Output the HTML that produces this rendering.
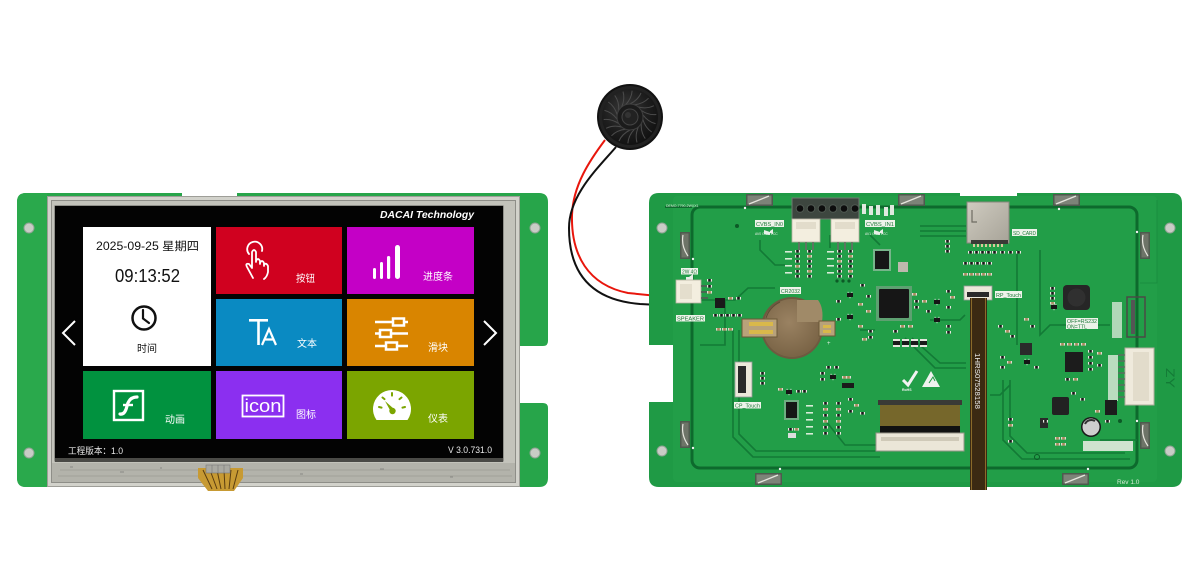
<!DOCTYPE html>
<html><head><meta charset="utf-8">
<style>
html,body{margin:0;padding:0;background:#fff;width:1200px;height:570px;overflow:hidden}
svg{display:block}
</style></head><body>
<svg width="1200" height="570" viewBox="0 0 1200 570" xmlns="http://www.w3.org/2000/svg" xmlns:xlink="http://www.w3.org/1999/xlink">
<defs>
  <radialGradient id="spk" cx="0.42" cy="0.38" r="0.65">
    <stop offset="0" stop-color="#3a3a3a"/><stop offset="0.6" stop-color="#1e1e1e"/><stop offset="1" stop-color="#111"/>
  </radialGradient>
  <radialGradient id="bat" cx="0.45" cy="0.4" r="0.6">
    <stop offset="0" stop-color="#9a8262"/><stop offset="1" stop-color="#7a6446"/>
  </radialGradient>
  <linearGradient id="sd" x1="0" y1="0" x2="1" y2="1">
    <stop offset="0" stop-color="#cfcbc0"/><stop offset="1" stop-color="#a7a398"/>
  </linearGradient>
  <g id="res"><rect width="5" height="2.6" fill="#e6e6de"/><rect x="1.2" width="2.6" height="2.6" fill="#1a1a1a"/></g>
  <g id="cap"><rect width="5" height="2.6" fill="#dcdcd2"/><rect x="1.2" width="2.6" height="2.6" fill="#a88a5a"/></g>
  <g id="sot"><rect width="6" height="4" fill="#151515"/><rect x="0.6" y="-1.2" width="1" height="1.2" fill="#ccc"/><rect x="4.4" y="-1.2" width="1" height="1.2" fill="#ccc"/><rect x="2.5" y="4" width="1" height="1.2" fill="#ccc"/></g>
  <g id="lab"><rect width="7" height="1.6" fill="#d8ecd8"/></g>
  <g id="clipH"><rect width="27" height="12" fill="#4e5a4e"/><rect x="1.5" y="1.5" width="24" height="9" fill="#7d8378"/><path d="M3,10 L23,2" stroke="#e6e6de" stroke-width="1.3"/></g>
  <g id="clipV"><rect width="10" height="27" fill="#4e5a4e"/><rect x="1.5" y="1.5" width="7" height="24" fill="#6e7468"/><path d="M3,3 Q1,14 8,24" stroke="#e6e6de" stroke-width="1.2" fill="none"/></g>
  <g id="sw"><path d="M630,104 Q638,100 641,93" stroke="#4c4c4c" stroke-width="1" fill="none"/></g>
</defs>

<!-- ================= LEFT BOARD ================= -->
<path d="M26,193 H182 V197 H237 V193 H539 Q548,193 548,202 V341 Q548,346 543,346 H520 V403 H543 Q548,403 548,408 V478 Q548,487 539,487 H26 Q17,487 17,478 V202 Q17,193 26,193 Z" fill="#27a54a"/>
<path d="M17,202 Q17,193 26,193 H47 V487 H26 Q17,487 17,478 Z" fill="#2aa94c"/>
<circle cx="29" cy="228" r="5" fill="#c9ccc6" stroke="#8fa393" stroke-width="1"/>
<circle cx="29" cy="453" r="5" fill="#c9ccc6" stroke="#8fa393" stroke-width="1"/>
<circle cx="535" cy="228" r="5" fill="#c9ccc6" stroke="#8fa393" stroke-width="1"/>
<circle cx="535" cy="453" r="5" fill="#c9ccc6" stroke="#8fa393" stroke-width="1"/>

<!-- touch frame -->
<rect x="47" y="196" width="473" height="291" fill="#9e9e98"/>
<rect x="48" y="197" width="471" height="289" fill="#d2d2cb"/>
<rect x="51" y="200" width="465" height="283" fill="#8e8e88"/>
<rect x="52" y="201" width="463" height="281" fill="#c3c3bb"/>
<rect x="52" y="463" width="463" height="19" fill="#b3b3ab"/>
<path d="M60,470 H510 M58,476 H512" stroke="#a2a29a" stroke-width="1"/>
<path d="M70,467 l3,0 M120,472 l4,0 M160,468 l2,0 M300,474 l3,0 M380,469 l4,0 M450,477 l3,0" stroke="#8a8a84" stroke-width="1"/>
<rect x="54.5" y="205.5" width="449" height="256" fill="#5c5c58"/>
<rect x="55" y="206" width="448" height="255" fill="#030303"/>
<rect x="55" y="458" width="448" height="4" fill="#4a4a46"/>

<!-- flex tail -->
<path d="M198,468 H243 V478 L234,491 H208 L198,478 Z" fill="#c79a33"/>
<path d="M203,470 L212,489 M210,470 L217,489 M217,470 L221,489 M224,470 L225,489 M231,470 L229,489 M238,470 L233,489" stroke="#5a3d10" stroke-width="1"/>
<rect x="206" y="465" width="24" height="8" fill="#a9a9a2" stroke="#777" stroke-width="0.6"/>
<path d="M212,465 V473 M218,465 V473 M224,465 V473" stroke="#777" stroke-width="0.6"/>

<!-- screen text -->
<text x="380" y="218" font-family="Liberation Sans, sans-serif" font-size="10" font-weight="bold" font-style="italic" fill="#fff" textLength="94" lengthAdjust="spacingAndGlyphs">DACAI  Technology</text>

<!-- tiles -->
<rect x="83" y="227" width="128" height="139" fill="#ffffff"/>
<rect x="216" y="227" width="126" height="67" fill="#d0011f"/>
<rect x="347" y="227" width="127" height="67" fill="#c400c6"/>
<rect x="216" y="299" width="126" height="67" fill="#0a8ac2"/>
<rect x="347" y="299" width="127" height="67" fill="#d98500"/>
<rect x="83" y="371" width="128" height="68" fill="#01923f"/>
<rect x="216" y="371" width="126" height="68" fill="#8b2ff0"/>
<rect x="347" y="371" width="127" height="68" fill="#7ba500"/>

<!-- clock tile -->
<text x="96" y="250" font-family="Liberation Sans, Noto Sans CJK SC, sans-serif" font-size="11.5" fill="#111" textLength="103" lengthAdjust="spacingAndGlyphs">2025-09-25 星期四</text>
<text x="115" y="282" font-family="Liberation Sans, sans-serif" font-size="18" fill="#111" textLength="65" lengthAdjust="spacingAndGlyphs">09:13:52</text>
<circle cx="144" cy="318" r="11.5" fill="none" stroke="#111" stroke-width="2.5"/>
<path d="M143,310 V318.5 L149,323" fill="none" stroke="#111" stroke-width="2.2" stroke-linecap="round"/>
<text x="137" y="352" font-family="Liberation Sans, Noto Sans CJK SC, sans-serif" font-size="10" fill="#111" textLength="20" lengthAdjust="spacingAndGlyphs">时间</text>

<!-- arrows -->
<polyline points="75,321 63,333 75,345" fill="none" stroke="#fff" stroke-width="2"/>
<polyline points="484,321 496,333 484,345" fill="none" stroke="#fff" stroke-width="2"/>

<!-- hand icon -->
<g fill="none" stroke="#fff" stroke-width="1.8" stroke-linecap="round" stroke-linejoin="round">
  <path d="M249,254 A7.5,7.5 0 1 1 262,251"/>
  <path d="M253,278 L247,267 Q245,263 249,264 L252,268 L252,252 Q254,248 256,252 L256,262 M256,261 Q258,257 260,261 L260,264 M260,263 Q262,259 264,263 L264,266 M264,265 Q266,262 268,266 L268,272 Q267,277 264,279"/>
</g>
<text x="296" y="282" font-family="Liberation Sans, Noto Sans CJK SC, sans-serif" font-size="10" fill="#fff" textLength="19" lengthAdjust="spacingAndGlyphs">按钮</text>

<!-- bars icon -->
<g fill="#fff">
  <rect x="373" y="268" width="3" height="11" rx="1.5"/>
  <rect x="380" y="262" width="3" height="17" rx="1.5"/>
  <rect x="387" y="256" width="3.2" height="23" rx="1.6"/>
  <rect x="395" y="245" width="5" height="34" rx="2.5"/>
</g>
<text x="423" y="280" font-family="Liberation Sans, Noto Sans CJK SC, sans-serif" font-size="10" fill="#fff" textLength="30" lengthAdjust="spacingAndGlyphs">进度条</text>

<!-- TA icon -->
<g fill="#fff">
  <rect x="249" y="319" width="19" height="2.6"/>
  <rect x="257.2" y="319" width="2.6" height="26"/>
</g>
<path d="M262,345 L269,329 L276,345 M264.5,339.5 H273.5" fill="none" stroke="#fff" stroke-width="2.2"/>
<text x="297" y="347" font-family="Liberation Sans, Noto Sans CJK SC, sans-serif" font-size="10" fill="#fff" textLength="20" lengthAdjust="spacingAndGlyphs">文本</text>

<!-- slider icon -->
<g stroke="#fff" stroke-width="2.5" fill="#d98500">
  <path d="M375,322 H408 M375,333.5 H408 M375,346 H408"/>
  <rect x="393" y="318.5" width="11" height="7"/>
  <rect x="380" y="330" width="11" height="7"/>
  <rect x="386" y="342.5" width="11" height="7"/>
</g>
<text x="428" y="351" font-family="Liberation Sans, Noto Sans CJK SC, sans-serif" font-size="10" fill="#fff" textLength="20" lengthAdjust="spacingAndGlyphs">滑块</text>

<!-- flash icon -->
<rect x="114" y="391" width="29" height="29" fill="none" stroke="#fff" stroke-width="2.4"/>
<path d="M120,414 Q125,415 127,406 Q129,397 137,397" fill="none" stroke="#fff" stroke-width="3.2" stroke-linecap="round"/>
<path d="M123,405 H133" stroke="#fff" stroke-width="2.4"/>
<text x="165" y="423" font-family="Liberation Sans, Noto Sans CJK SC, sans-serif" font-size="10" fill="#fff" textLength="20" lengthAdjust="spacingAndGlyphs">动画</text>

<!-- icon icon -->
<rect x="242.5" y="395.5" width="41" height="21" fill="none" stroke="#fff" stroke-width="1.8"/>
<text x="244.5" y="412" font-family="Liberation Sans, sans-serif" font-size="18" fill="#fff" textLength="37" lengthAdjust="spacingAndGlyphs">icon</text>
<text x="296" y="418" font-family="Liberation Sans, Noto Sans CJK SC, sans-serif" font-size="10" fill="#fff" textLength="20" lengthAdjust="spacingAndGlyphs">图标</text>

<!-- gauge icon -->
<path d="M376.5,420 A19,19 0 1 1 407.5,420 Z" fill="#fff"/>
<g stroke="#7ba500" stroke-width="2" stroke-linecap="round">
  <path d="M379,407 l2.5,0.6 M382.5,397.5 l2,1.6 M392,393 v2.6 M401.5,397.5 l-2,1.6 M405,407 l-2.5,0.6"/>
</g>
<path d="M385,401 L394,409 L391,412 Z" fill="#7ba500"/>
<circle cx="392.5" cy="411" r="3.2" fill="#7ba500"/>
<text x="428" y="422" font-family="Liberation Sans, Noto Sans CJK SC, sans-serif" font-size="10" fill="#fff" textLength="20" lengthAdjust="spacingAndGlyphs">仪表</text>

<!-- footer text -->
<text x="68" y="454" font-family="Liberation Sans, Noto Sans CJK SC, sans-serif" font-size="9" fill="#e8e8e8" textLength="55" lengthAdjust="spacingAndGlyphs">工程版本：1.0</text>
<text x="448" y="453" font-family="Liberation Sans, sans-serif" font-size="9" fill="#e8e8e8" textLength="44" lengthAdjust="spacingAndGlyphs">V  3.0.731.0</text>

<!-- ================= SPEAKER ================= -->
<path d="M605,140 C590,160 573,185 572,215 C571,255 588,285 628,293 L678,298" fill="none" stroke="#e8160c" stroke-width="2"/>
<path d="M616,147 C598,168 569,195 569,228 C569,272 590,300 640,304 L678,306" fill="none" stroke="#111" stroke-width="2"/>
<circle cx="630" cy="117" r="33" fill="#121212"/>
<circle cx="630" cy="117" r="31" fill="#222"/>
<circle cx="630" cy="117" r="28" fill="url(#spk)"/>
<use xlink:href="#sw"/>
<use xlink:href="#sw" transform="rotate(20 630 117)"/>
<use xlink:href="#sw" transform="rotate(40 630 117)"/>
<use xlink:href="#sw" transform="rotate(60 630 117)"/>
<use xlink:href="#sw" transform="rotate(80 630 117)"/>
<use xlink:href="#sw" transform="rotate(100 630 117)"/>
<use xlink:href="#sw" transform="rotate(120 630 117)"/>
<use xlink:href="#sw" transform="rotate(140 630 117)"/>
<use xlink:href="#sw" transform="rotate(160 630 117)"/>
<use xlink:href="#sw" transform="rotate(180 630 117)"/>
<use xlink:href="#sw" transform="rotate(200 630 117)"/>
<use xlink:href="#sw" transform="rotate(220 630 117)"/>
<use xlink:href="#sw" transform="rotate(240 630 117)"/>
<use xlink:href="#sw" transform="rotate(260 630 117)"/>
<use xlink:href="#sw" transform="rotate(280 630 117)"/>
<use xlink:href="#sw" transform="rotate(300 630 117)"/>
<use xlink:href="#sw" transform="rotate(320 630 117)"/>
<use xlink:href="#sw" transform="rotate(340 630 117)"/>
<circle cx="630" cy="117" r="13" fill="#1b1b1b" stroke="#3e3e3e" stroke-width="1"/>
<circle cx="630" cy="117" r="8" fill="#222" stroke="#444" stroke-width="1"/>
<circle cx="628" cy="115" r="3" fill="#333"/>

<!-- ================= RIGHT BOARD ================= -->
<path d="M659,193 H960 V197 H1017 V193 H1172 Q1182,193 1182,203 V477 Q1182,487 1172,487 H659 Q649,487 649,477 V402 H682 V345 H649 V203 Q649,193 659,193 Z" fill="#1f9a45"/>
<rect x="673" y="196" width="484" height="286" rx="4" fill="#229e48"/>
<path d="M1157,200 V283 H1140" fill="none" stroke="#1a8d3f" stroke-width="1"/>
<!-- main dark trace frame -->
<rect x="692" y="207" width="445" height="261" rx="8" fill="none" stroke="#0d6a2d" stroke-width="3"/>
<path d="M665,207 H692" stroke="#0d6a2d" stroke-width="2"/>
<g fill="none" stroke="#137a36" stroke-width="1.6">
  <path d="M733,330 V437 L753,457 H880"/>
  <path d="M739,330 V434 L756,451 H880"/>
  <path d="M700,300 H735 L748,288 H775"/>
  <path d="M700,345 H725 V300"/>
  <path d="M825,420 L845,445 H878"/>
  <path d="M1003,380 V440 L1022,459 H1130"/>
  <path d="M1010,380 V436 L1027,453 H1125"/>
  <path d="M920,226 H966 M920,231 H966 M920,236 H966"/>
  <path d="M1017,250 V345 M1040,250 V335 L1050,325 H1110"/>
  <path d="M905,338 L935,368 H966 M912,338 L940,363 H966"/>
  <path d="M830,235 V248 M870,235 L880,245"/>
  <path d="M760,240 V250 L775,265 H785"/>
  <path d="M1100,440 H1137 M990,395 H1000 L1010,385"/>
  <path d="M860,330 H875 M930,320 H960 L965,315"/>
</g>

<!-- clips -->
<use xlink:href="#clipH" x="746" y="194"/>
<use xlink:href="#clipH" x="898" y="194"/>
<use xlink:href="#clipH" x="1053" y="194"/>
<use xlink:href="#clipH" x="755" y="473"/>
<use xlink:href="#clipH" x="1062" y="473"/>
<use xlink:href="#clipV" x="680" y="232"/>
<use xlink:href="#clipV" x="680" y="421"/>
<use xlink:href="#clipV" x="1140" y="232"/>
<use xlink:href="#clipV" x="1140" y="422"/>

<!-- holes -->
<circle cx="662" cy="228" r="5" fill="#c9ccc6" stroke="#8fa393" stroke-width="1"/>
<circle cx="662" cy="451" r="5" fill="#c9ccc6" stroke="#8fa393" stroke-width="1"/>
<circle cx="1170" cy="228" r="5" fill="#c9ccc6" stroke="#8fa393" stroke-width="1"/>
<circle cx="1170" cy="451" r="5" fill="#c9ccc6" stroke="#8fa393" stroke-width="1"/>

<!-- vias -->
<g fill="#f2f2f2">
  <circle cx="745" cy="208" r="1.2"/><circle cx="693" cy="259" r="1.2"/><circle cx="1059" cy="209" r="1.2"/>
  <circle cx="1137" cy="232" r="1.2"/><circle cx="693" cy="448" r="1.2"/><circle cx="780" cy="469" r="1.2"/>
  <circle cx="1137" cy="421" r="1.2"/><circle cx="1088" cy="469" r="1.2"/>
</g>
<g fill="#0c5a26"><circle cx="737" cy="226" r="2"/><circle cx="1120" cy="421" r="2"/><circle cx="837" cy="281" r="1.6"/><circle cx="843" cy="281" r="1.6"/><circle cx="849" cy="281" r="1.6"/></g>

<text x="666" y="207" font-family="Liberation Sans, sans-serif" font-size="3.5" fill="#d8ecd8">DEMO-7790-2WXX1</text>

<!-- header -->
<rect x="792" y="198" width="67" height="21" fill="#3d463f" stroke="#6e7a70" stroke-width="1"/>
<g fill="#0d0d0d" stroke="#505a52" stroke-width="1">
  <circle cx="800" cy="208.5" r="3.8"/><circle cx="811" cy="208.5" r="3.8"/><circle cx="822" cy="208.5" r="3.8"/>
  <circle cx="833" cy="208.5" r="3.8"/><circle cx="844" cy="208.5" r="3.8"/><circle cx="855" cy="208.5" r="3.8"/>
</g>
<rect x="862" y="204" width="4" height="10" fill="#dfe9df"/><rect x="869" y="206" width="4" height="9" fill="#dfe9df"/><rect x="876" y="205" width="4" height="10" fill="#dfe9df"/><rect x="884" y="207" width="4" height="9" fill="#dfe9df"/><rect x="890" y="205" width="4" height="10" fill="#dfe9df"/>

<!-- JST connectors -->
<g fill="#f3eedf" stroke="#b7b2a2" stroke-width="0.8">
  <rect x="792" y="219" width="28" height="23"/><rect x="831" y="219" width="28" height="23"/>
</g>
<rect x="796" y="222" width="20" height="7" fill="#e2dccb"/><rect x="835" y="222" width="20" height="7" fill="#e2dccb"/>
<path d="M799,242 V250 M806,242 V250 M813,242 V250 M838,242 V250 M845,242 V250 M852,242 V250" stroke="#6b6b66" stroke-width="1.6"/>

<!-- labels -->
<g font-family="Liberation Sans, sans-serif" font-size="5.2" fill="#1f7a3a">
  <rect x="755" y="220" width="29" height="7" fill="#eef3ea"/><text x="756" y="225.8" textLength="27" lengthAdjust="spacingAndGlyphs">CVBS_IN0</text>
  <rect x="865" y="220" width="30" height="7" fill="#eef3ea"/><text x="866" y="225.8" textLength="28" lengthAdjust="spacingAndGlyphs">CVBS_IN1</text>
  <rect x="1012" y="229" width="25" height="7" fill="#eef3ea"/><text x="1013" y="234.8" textLength="23" lengthAdjust="spacingAndGlyphs">SD_CARD</text>
  <rect x="995" y="291" width="27" height="7" fill="#eef3ea"/><text x="996" y="296.8" textLength="25" lengthAdjust="spacingAndGlyphs">RP_Touch</text>
  <rect x="676" y="315" width="29" height="6.5" fill="#eef3ea"/><text x="677" y="320.5" textLength="27" lengthAdjust="spacingAndGlyphs">SPEAKER</text>
  <rect x="681" y="268" width="17" height="6.5" fill="#eef3ea"/><text x="682" y="273.5" textLength="15" lengthAdjust="spacingAndGlyphs">2W 4Ω</text>
  <rect x="780" y="287" width="21" height="7" fill="#eef3ea"/><text x="781" y="292.8" textLength="19" lengthAdjust="spacingAndGlyphs">CR2032</text>
  <rect x="734" y="402" width="27" height="6.5" fill="#eef3ea"/><text x="735" y="407.5" textLength="25" lengthAdjust="spacingAndGlyphs">CP_Touch</text>
  <rect x="1066" y="318" width="32" height="11" fill="#eef3ea"/><text x="1067" y="322.8" textLength="30" lengthAdjust="spacingAndGlyphs">OFF=RS232</text><text x="1067" y="328.3" textLength="20" lengthAdjust="spacingAndGlyphs">ON=TTL</text>
</g>
<g font-family="Liberation Sans, sans-serif" font-size="3.4" fill="#e6f0e6">
  <text x="755" y="235">AV0 GND VCC</text><text x="865" y="235">AV1 GND VCC</text>
</g>
<path d="M764,230 l6,2 l0,3 l-6,-1 z M770,231 l3,-2 l0,5 l-3,-1" fill="#e8efe8"/>
<path d="M874,230 l6,2 l0,3 l-6,-1 z M880,231 l3,-2 l0,5 l-3,-1" fill="#e8efe8"/>
<path d="M686,277 h3 l4,-3 v10 l-4,-3 h-3 z" fill="#e8efe8"/>

<!-- SD card -->
<rect x="967" y="202" width="42" height="41" fill="url(#sd)" stroke="#8a877e" stroke-width="1"/>
<path d="M972,210 V222 H977" fill="none" stroke="#6e6b62" stroke-width="1.2"/>
<rect x="971" y="240" width="37" height="4" fill="#3a3a36"/>
<g fill="#d8c89a"><rect x="973" y="244" width="2" height="3"/><rect x="977" y="244" width="2" height="3"/><rect x="981" y="244" width="2" height="3"/><rect x="985" y="244" width="2" height="3"/><rect x="989" y="244" width="2" height="3"/><rect x="993" y="244" width="2" height="3"/><rect x="997" y="244" width="2" height="3"/><rect x="1001" y="244" width="2" height="3"/></g>

<!-- speaker connector -->
<rect x="676" y="280" width="25" height="23" fill="#f3eedf" stroke="#b7b2a2" stroke-width="0.8"/>
<rect x="680" y="284" width="12" height="15" fill="#e4decd"/>
<path d="M701,286 H708 M701,292 H708 M701,298 H708" stroke="#555" stroke-width="1.5"/>
<rect x="715" y="298" width="10" height="10" fill="#1a1a1a"/>

<!-- battery -->
<circle cx="792" cy="328" r="31" fill="#6e5a40"/>
<circle cx="792" cy="328" r="29" fill="url(#bat)"/>
<path d="M797,300 H818 Q824,308 822,322 H797 Z" fill="#a08a68"/>
<path d="M766,318 A27,27 0 0 1 780,302" fill="none" stroke="#5e4c36" stroke-width="1"/>
<rect x="742" y="319" width="35" height="18" fill="#b8a27a" stroke="#6a5838" stroke-width="1"/>
<rect x="749" y="322" width="24" height="4" fill="#d9b84a"/><rect x="749" y="330" width="24" height="4" fill="#d9b84a"/>
<rect x="819" y="321" width="16" height="15" fill="#b8a27a" stroke="#6a5838" stroke-width="1"/>
<rect x="823" y="325" width="8" height="3" fill="#d9b84a"/><rect x="823" y="330" width="8" height="3" fill="#d9b84a"/>
<text x="827" y="345" font-family="Liberation Sans, sans-serif" font-size="6" fill="#e6f0e6">+</text>

<!-- main chip -->
<rect x="876" y="286" width="36" height="35" fill="#9aa39a" opacity="0.5"/>
<rect x="879" y="289" width="30" height="29" rx="1" fill="#161616"/>
<!-- 8-pin ICs -->
<rect x="873" y="249" width="18" height="22" fill="#ccc" opacity="0.5"/>
<rect x="875" y="251" width="14" height="18" fill="#161616"/>
<rect x="898" y="262" width="10" height="10" fill="#bdb9ae"/>
<rect x="784" y="400" width="15" height="20" fill="#bbb" opacity="0.5"/>
<rect x="786" y="402" width="11" height="16" fill="#161616"/>

<!-- CP_Touch connector -->
<rect x="735" y="362" width="17" height="35" fill="#ece8da" stroke="#999" stroke-width="0.8"/>
<rect x="738" y="366" width="8" height="27" fill="#2a2a2a"/>
<!-- RP_Touch connector -->
<rect x="964" y="286" width="28" height="14" fill="#ece8da" stroke="#999" stroke-width="0.8"/>
<rect x="967" y="292" width="22" height="5" fill="#2a2a2a"/>

<!-- flex cable -->
<rect x="970" y="298" width="17" height="192" fill="#3b2a12"/>
<path d="M971.5,298 V490 M985.5,298 V490" stroke="#8a6a2a" stroke-width="1"/>
<text x="0" y="0" transform="translate(975 353) rotate(90)" font-family="Liberation Sans, sans-serif" font-size="7" fill="#f0f0f0" textLength="56" lengthAdjust="spacingAndGlyphs">1HRS07528158</text>

<!-- FPC connector -->
<rect x="878" y="400" width="84" height="5" fill="#3a3a36"/>
<rect x="880" y="405" width="80" height="21" fill="#6a5a22"/>
<rect x="880" y="405" width="80" height="21" fill="#8a7a3a" opacity="0.4"/>
<rect x="880" y="426" width="80" height="7" fill="#111"/>
<rect x="876" y="433" width="88" height="18" fill="#ebe6d8" stroke="#9a968a" stroke-width="1"/>
<rect x="881" y="437" width="78" height="4" fill="#cfc9b8"/>

<!-- right side parts -->
<rect x="1063" y="285" width="27" height="25" rx="4" fill="#262626"/>
<circle cx="1076.5" cy="297.5" r="9" fill="#303030"/>
<rect x="1125" y="348" width="29" height="57" fill="#efeadc" stroke="#b2ad9e" stroke-width="1"/>
<rect x="1133" y="352" width="16" height="49" fill="#e2dccb"/>
<path d="M1118,355 H1125 M1118,361 H1125 M1118,367 H1125 M1118,373 H1125 M1118,379 H1125 M1118,385 H1125 M1118,391 H1125 M1118,397 H1125" stroke="#666" stroke-width="1.2"/>
<rect x="1108" y="355" width="10" height="46" fill="#d5e6d5" opacity="0.85"/>
<rect x="1112" y="302" width="10" height="36" fill="#d5e6d5" opacity="0.8"/>
<rect x="1127" y="297" width="18" height="40" fill="none" stroke="#4a4a46" stroke-width="1.5"/>
<rect x="1131" y="300" width="4" height="34" fill="#555"/>
<rect x="1065" y="352" width="18" height="20" fill="#1c1c1c"/>
<rect x="1052" y="397" width="17" height="18" rx="2" fill="#222"/>
<rect x="1105" y="400" width="12" height="15" fill="#1c1c1c"/>
<rect x="1020" y="343" width="12" height="12" fill="#2a2a2a"/>
<circle cx="1091" cy="427" r="10" fill="#1a1a1a"/>
<circle cx="1091" cy="427" r="8.5" fill="#cfcfcf"/>
<path d="M1085,424 A7,7 0 0 1 1095,421" stroke="#333" stroke-width="2" fill="none"/>
<rect x="1083" y="441" width="50" height="10" fill="#cfe3cf"/>
<rect x="1040" y="418" width="8" height="10" fill="#2a2a2a"/>

<!-- RoHS / ESD -->
<path d="M903,380 L908,385 L917,371" fill="none" stroke="#f2f2f2" stroke-width="3"/>
<text x="902" y="391" font-family="Liberation Sans, sans-serif" font-size="3.5" font-weight="bold" fill="#f2f2f2">RoHS</text>
<path d="M931,371 L940,387 H922 Z" fill="#eef2ee"/>
<path d="M929,383 L933,377 L935,381" fill="none" stroke="#1f9a45" stroke-width="1"/>

<!-- resistor arrays RP -->
<g fill="#e6e6de"><rect x="893" y="339" width="7" height="8"/><rect x="902" y="339" width="7" height="8"/><rect x="911" y="339" width="7" height="8"/><rect x="920" y="339" width="7" height="8"/></g>
<g fill="#1a1a1a"><rect x="893" y="341" width="7" height="4"/><rect x="902" y="341" width="7" height="4"/><rect x="911" y="341" width="7" height="4"/><rect x="920" y="341" width="7" height="4"/></g>

<!-- small SMD parts -->
<g>
  <use xlink:href="#res" x="795" y="250"/><use xlink:href="#res" x="795" y="255"/><use xlink:href="#res" x="795" y="260"/><use xlink:href="#cap" x="795" y="265"/><use xlink:href="#res" x="795" y="270"/><use xlink:href="#res" x="795" y="275"/>
  <use xlink:href="#res" x="807" y="250"/><use xlink:href="#cap" x="807" y="255"/><use xlink:href="#res" x="807" y="260"/><use xlink:href="#res" x="807" y="265"/><use xlink:href="#cap" x="807" y="270"/><use xlink:href="#res" x="807" y="275"/>
  <use xlink:href="#res" x="837" y="250"/><use xlink:href="#res" x="837" y="255"/><use xlink:href="#cap" x="837" y="260"/><use xlink:href="#res" x="837" y="265"/><use xlink:href="#res" x="837" y="270"/><use xlink:href="#res" x="837" y="275"/>
  <use xlink:href="#res" x="848" y="250"/><use xlink:href="#cap" x="848" y="255"/><use xlink:href="#res" x="848" y="260"/><use xlink:href="#res" x="848" y="265"/><use xlink:href="#cap" x="848" y="270"/><use xlink:href="#res" x="848" y="275"/>
  <use xlink:href="#lab" x="785" y="251"/><use xlink:href="#lab" x="785" y="258"/><use xlink:href="#lab" x="785" y="265"/><use xlink:href="#lab" x="785" y="272"/>
  <use xlink:href="#lab" x="827" y="251"/><use xlink:href="#lab" x="827" y="258"/><use xlink:href="#lab" x="827" y="265"/><use xlink:href="#lab" x="827" y="272"/>

  <use xlink:href="#res" x="707" y="279"/><use xlink:href="#res" x="707" y="285"/><use xlink:href="#cap" x="707" y="291"/>
  <use xlink:href="#res" x="713" y="314"/><use xlink:href="#res" x="719" y="314"/><use xlink:href="#res" x="725" y="314"/><use xlink:href="#res" x="731" y="314"/><use xlink:href="#res" x="737" y="314"/>
  <use xlink:href="#cap" x="716" y="328"/><use xlink:href="#cap" x="722" y="328"/><use xlink:href="#cap" x="728" y="328"/>
  <use xlink:href="#cap" x="728" y="297"/><use xlink:href="#res" x="736" y="297"/>

  <use xlink:href="#sot" x="847" y="293"/><use xlink:href="#sot" x="847" y="315"/>
  <use xlink:href="#res" x="836" y="300"/><use xlink:href="#res" x="836" y="318"/><use xlink:href="#cap" x="858" y="303"/><use xlink:href="#cap" x="858" y="325"/>
  <use xlink:href="#res" x="860" y="284"/><use xlink:href="#res" x="866" y="295"/><use xlink:href="#cap" x="866" y="310"/>
  <use xlink:href="#res" x="868" y="330"/><use xlink:href="#res" x="868" y="336"/><use xlink:href="#cap" x="862" y="338"/>
  <use xlink:href="#cap" x="912" y="293"/><use xlink:href="#res" x="914" y="300"/><use xlink:href="#res" x="914" y="306"/><use xlink:href="#cap" x="922" y="300"/>
  <use xlink:href="#sot" x="934" y="300"/><use xlink:href="#sot" x="934" y="318"/><use xlink:href="#res" x="926" y="310"/><use xlink:href="#res" x="946" y="306"/>
  <use xlink:href="#res" x="946" y="290"/><use xlink:href="#cap" x="950" y="296"/><use xlink:href="#res" x="946" y="325"/><use xlink:href="#res" x="946" y="331"/>
  <use xlink:href="#cap" x="900" y="325"/><use xlink:href="#cap" x="908" y="325"/><use xlink:href="#res" x="893" y="330"/>
  <use xlink:href="#res" x="945" y="240"/><use xlink:href="#res" x="945" y="245"/><use xlink:href="#res" x="945" y="250"/>
  <use xlink:href="#res" x="963" y="262"/><use xlink:href="#res" x="969" y="262"/><use xlink:href="#res" x="975" y="262"/><use xlink:href="#res" x="981" y="262"/><use xlink:href="#res" x="987" y="262"/>
  <use xlink:href="#cap" x="963" y="273"/><use xlink:href="#cap" x="969" y="273"/><use xlink:href="#cap" x="975" y="273"/><use xlink:href="#cap" x="981" y="273"/><use xlink:href="#cap" x="987" y="273"/>
  <use xlink:href="#res" x="968" y="251"/><use xlink:href="#res" x="974" y="251"/><use xlink:href="#res" x="980" y="251"/><use xlink:href="#res" x="986" y="251"/><use xlink:href="#res" x="992" y="251"/><use xlink:href="#res" x="1000" y="251"/><use xlink:href="#res" x="1008" y="251"/><use xlink:href="#res" x="1016" y="251"/>
  <use xlink:href="#res" x="1050" y="287"/><use xlink:href="#res" x="1050" y="292"/><use xlink:href="#res" x="1050" y="297"/><use xlink:href="#cap" x="1050" y="302"/><use xlink:href="#sot" x="1051" y="305"/>

  <use xlink:href="#res" x="998" y="325"/><use xlink:href="#cap" x="1005" y="330"/><use xlink:href="#res" x="1010" y="335"/><use xlink:href="#cap" x="1024" y="318"/><use xlink:href="#res" x="1030" y="325"/>
  <use xlink:href="#res" x="1000" y="356"/><use xlink:href="#cap" x="1007" y="361"/><use xlink:href="#res" x="1000" y="366"/><use xlink:href="#sot" x="1024" y="360"/><use xlink:href="#res" x="1034" y="366"/>
  <use xlink:href="#cap" x="1060" y="343"/><use xlink:href="#cap" x="1067" y="343"/><use xlink:href="#cap" x="1074" y="343"/><use xlink:href="#cap" x="1081" y="343"/>
  <use xlink:href="#res" x="1088" y="350"/><use xlink:href="#res" x="1088" y="356"/><use xlink:href="#res" x="1088" y="362"/><use xlink:href="#res" x="1088" y="368"/><use xlink:href="#cap" x="1097" y="352"/><use xlink:href="#res" x="1097" y="364"/>
  <use xlink:href="#res" x="1065" y="378"/><use xlink:href="#cap" x="1073" y="378"/><use xlink:href="#res" x="1071" y="392"/><use xlink:href="#res" x="1080" y="398"/>
  <use xlink:href="#res" x="1008" y="418"/><use xlink:href="#cap" x="1008" y="424"/><use xlink:href="#res" x="1008" y="440"/>
  <use xlink:href="#res" x="1043" y="420"/><use xlink:href="#cap" x="1055" y="437"/><use xlink:href="#cap" x="1061" y="437"/><use xlink:href="#cap" x="1055" y="443"/><use xlink:href="#cap" x="1061" y="443"/>
  <use xlink:href="#res" x="1105" y="420"/><use xlink:href="#cap" x="1095" y="410"/>

  <use xlink:href="#res" x="760" y="372"/><use xlink:href="#res" x="760" y="377"/><use xlink:href="#res" x="760" y="382"/>
  <use xlink:href="#cap" x="778" y="388"/><use xlink:href="#sot" x="786" y="390"/><use xlink:href="#res" x="796" y="390"/><use xlink:href="#res" x="802" y="390"/>
  <use xlink:href="#res" x="788" y="428"/><use xlink:href="#cap" x="794" y="428"/><rect x="788" y="433" width="8" height="5" fill="#ddd"/>
  <use xlink:href="#lab" x="806" y="405"/><use xlink:href="#lab" x="806" y="412"/><use xlink:href="#lab" x="806" y="419"/><use xlink:href="#lab" x="806" y="426"/><use xlink:href="#lab" x="806" y="433"/>
  <use xlink:href="#res" x="823" y="402"/><use xlink:href="#cap" x="823" y="408"/><use xlink:href="#res" x="823" y="414"/><use xlink:href="#cap" x="823" y="420"/><use xlink:href="#res" x="823" y="426"/><use xlink:href="#res" x="823" y="432"/>
  <use xlink:href="#res" x="836" y="402"/><use xlink:href="#cap" x="836" y="408"/><use xlink:href="#res" x="836" y="414"/><use xlink:href="#cap" x="836" y="420"/><use xlink:href="#res" x="836" y="426"/><use xlink:href="#res" x="836" y="432"/>
  <use xlink:href="#res" x="848" y="398"/><use xlink:href="#cap" x="854" y="404"/><use xlink:href="#res" x="848" y="410"/><use xlink:href="#res" x="860" y="412"/>
  <use xlink:href="#sot" x="830" y="375"/><use xlink:href="#res" x="820" y="372"/><use xlink:href="#res" x="820" y="378"/><use xlink:href="#cap" x="842" y="376"/>
  <use xlink:href="#res" x="826" y="366"/><use xlink:href="#res" x="834" y="366"/>
  <rect x="842" y="383" width="12" height="5" fill="#1a1a1a"/><use xlink:href="#cap" x="846" y="376"/>
</g>

<!-- ZY / Rev -->
<text x="0" y="0" transform="translate(1166 368) rotate(90)" font-family="Liberation Sans, sans-serif" font-size="12" fill="#137a36" textLength="20" lengthAdjust="spacingAndGlyphs">ZY</text>
<text x="1117" y="484" font-family="Liberation Sans, sans-serif" font-size="6.5" fill="#d8ecd8">Rev 1.0</text>
<circle cx="1037" cy="457" r="2.5" fill="none" stroke="#0c5a26" stroke-width="1"/>
</svg>
</body></html>
